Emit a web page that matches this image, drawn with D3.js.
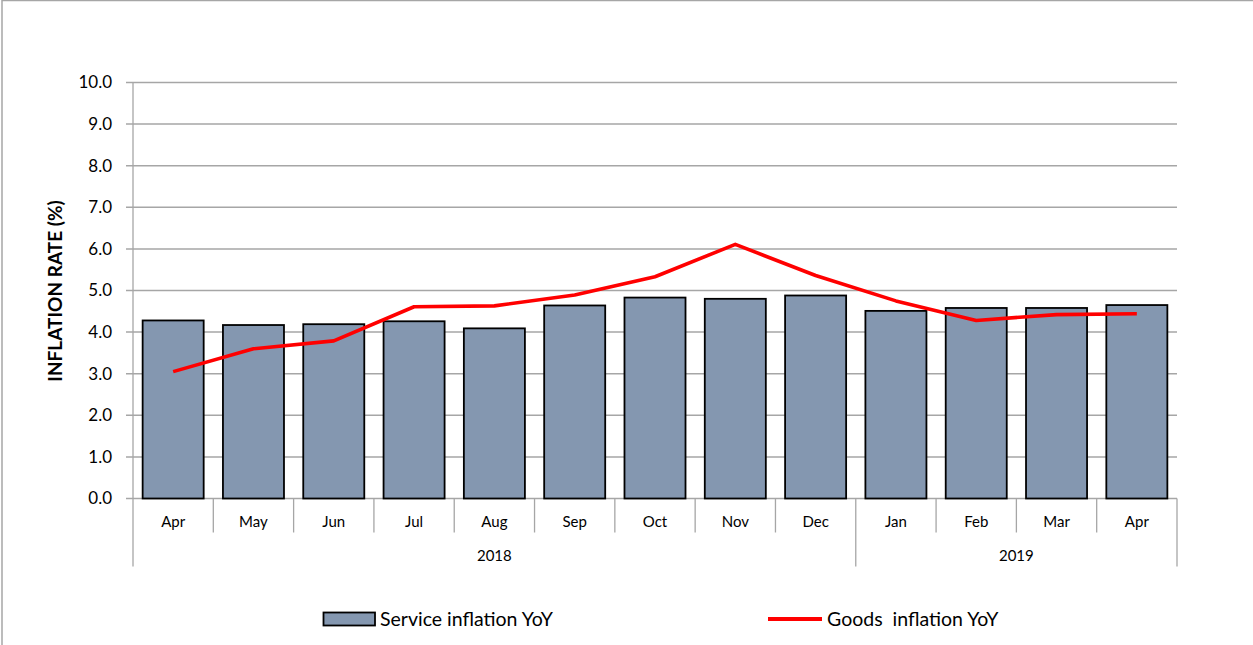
<!DOCTYPE html>
<html>
<head>
<meta charset="utf-8">
<title>Service vs goods inflation</title>
<script src="https://d3js.org/d3.v7.min.js"></script>
<style>
  body { margin: 0; background: #fff; }
  svg { display: block; font-family: Lato, "Open Sans", sans-serif; }
  .grid line { stroke: #a6a6a6; stroke-width: 1.5; }
  .sep { stroke: #a6a6a6; stroke-width: 1.3; }
  .y_label { font-size: 17px; fill: #000; }
  .month_label { font-size: 15px; fill: #000; }
  .year_label { font-size: 15px; fill: #000; }
  .axis_title { font-size: 19px; font-weight: bold; fill: #000; }
  .service { fill: #8497b0; stroke: #000; stroke-width: 1.8; }
  .goods { fill: none; stroke: #ff0000; stroke-width: 3.6; stroke-linejoin: round; }
  .legend_text { font-size: 19.5px; fill: #000; }
</style>
</head>
<body>
<div id="chart"></div>
<script>

// data
const months = ["Apr", "May", "Jun", "Jul", "Aug", "Sep", "Oct", "Nov", "Dec", "Jan", "Feb", "Mar", "Apr"];
const years = [{label: "2018", from: 0, to: 9}, {label: "2019", from: 9, to: 13}];
const serviceInflation = [4.28, 4.17, 4.19, 4.26, 4.09, 4.64, 4.83, 4.80, 4.88, 4.51, 4.58, 4.58, 4.65];
const goodsInflation = [3.05, 3.60, 3.79, 4.61, 4.63, 4.89, 5.33, 6.11, 5.36, 4.75, 4.28, 4.42, 4.44];
const yTicks = [0, 1, 2, 3, 4, 5, 6, 7, 8, 9, 10];

// chart dimensions and margins
const W = 1253, H = 645;
const margin = {top: 82.5, left: 133, right: 76, bottom: 146.5},
  width = W - margin.left - margin.right,
  height = H - margin.top - margin.bottom;

const svg = d3.select("#chart")
  .append("svg")
    .attr("width", W)
    .attr("height", H);

// outer frame (only top and left edges show)
svg.append("path")
  .attr("d", `M2,${H} L2,0.5 L${W},0.5`)
  .attr("fill", "none")
  .attr("stroke", "#a6a6a6")
  .attr("stroke-width", 1.5);

const g = svg.append("g")
  .attr("transform", `translate(${margin.left},${margin.top})`);

const idx = months.map((m, i) => i);

const x = d3.scaleBand()
  .domain(idx)
  .range([0, width])
  .paddingInner(0.24)
  .paddingOuter(0.12);

const y = d3.scaleLinear()
  .domain([0, 10])
  .range([height, 0]);

// gridlines + y tick marks
g.append("g")
  .attr("class", "grid")
  .selectAll("line")
  .data(yTicks)
  .join("line")
    .attr("x1", -7)
    .attr("x2", width)
    .attr("y1", d => y(d))
    .attr("y2", d => y(d));

// y tick labels
g.selectAll(".y_label")
  .data(yTicks)
  .join("text")
    .attr("class", "y_label")
    .attr("x", -21)
    .attr("y", d => y(d))
    .attr("dy", "0.35em")
    .attr("text-anchor", "end")
    .text(d => d.toFixed(1));

// y axis title
g.append("text")
  .attr("class", "axis_title")
  .attr("transform", `translate(${55 - margin.left},${291 - margin.top}) rotate(-90)`)
  .attr("text-anchor", "middle")
  .attr("dy", "0.35em")
  .text("INFLATION RATE (%)");

// category axis separators
const step = x.step();
const yearEdges = new Set(years.flatMap(d => [d.from, d.to]));
const edges = d3.range(months.length + 1);

g.selectAll(".sep")
  .data(edges)
  .join("line")
    .attr("class", "sep")
    .attr("x1", d => d * step)
    .attr("x2", d => d * step)
    .attr("y1", d => d === 0 ? 0 : height)
    .attr("y2", d => yearEdges.has(d) ? height + 68 : height + 34);

// month labels
g.selectAll(".month_label")
  .data(idx)
  .join("text")
    .attr("class", "month_label")
    .attr("x", d => x(d) + x.bandwidth() / 2)
    .attr("y", height + 28)
    .attr("text-anchor", "middle")
    .text(d => months[d]);

// year labels
g.selectAll(".year_label")
  .data(years)
  .join("text")
    .attr("class", "year_label")
    .attr("x", d => (d.from + d.to) / 2 * step)
    .attr("y", height + 62)
    .attr("text-anchor", "middle")
    .text(d => d.label);

// service bars
g.selectAll(".service")
  .data(idx)
  .join("rect")
    .attr("class", "service")
    .attr("x", d => x(d))
    .attr("y", d => y(serviceInflation[d]))
    .attr("width", x.bandwidth())
    .attr("height", d => height - y(serviceInflation[d]));

// goods line
const line = d3.line()
  .x(d => x(d) + x.bandwidth() / 2)
  .y(d => y(goodsInflation[d]));

g.append("path")
  .attr("class", "goods")
  .attr("d", line(idx));

// legend
const legend = svg.append("g");

legend.append("rect")
  .attr("class", "service")
  .attr("x", 323.5)
  .attr("y", 612.5)
  .attr("width", 51.5)
  .attr("height", 13);

legend.append("text")
  .attr("class", "legend_text")
  .attr("x", 380)
  .attr("y", 625.5)
  .text("Service inflation YoY");

legend.append("line")
  .attr("x1", 768)
  .attr("x2", 822)
  .attr("y1", 619)
  .attr("y2", 619)
  .attr("stroke", "#ff0000")
  .attr("stroke-width", 4);

legend.append("text")
  .attr("class", "legend_text")
  .attr("x", 827)
  .attr("y", 625.5)
  .attr("xml:space", "preserve")
  .style("white-space", "pre")
  .text("Goods  inflation YoY");

</script>
</body>
</html>
